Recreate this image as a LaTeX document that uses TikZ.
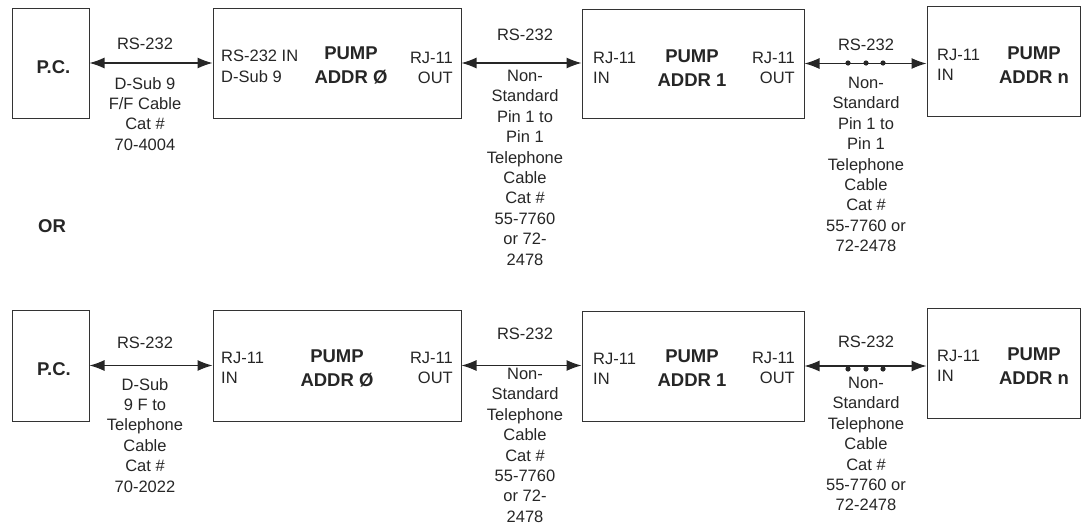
\documentclass[tikz,border=0pt]{standalone}
\usepackage{fontspec}
\setmainfont{Liberation Sans}
\usetikzlibrary{arrows.meta,positioning}

\begin{document}
\begin{tikzpicture}[x=1pt, y=-1pt,
  every node/.style={text=black!85, inner sep=0pt,
                     font=\fontsize{16.5}{20.4}\selectfont},
  unit/.style 2 args={draw=black!80, line width=1pt,
                      minimum width=#1, minimum height=#2},
  title/.style={font=\fontsize{18.5}{23.5}\selectfont\bfseries, anchor=base},
  heading/.style={font=\fontsize{18.5}{23.5}\selectfont\bfseries,
                  align=center, anchor=north},
  port/.style={align=left, anchor=north west},
  outport/.style={align=right, anchor=north east},
  note/.style={anchor=base},
  cabletext/.style={align=center, anchor=north},
  cable/.style={draw=black!85, line width=1.1pt,
                {Latex[length=15pt,width=11pt]}-{Latex[length=15pt,width=11pt]}}]

  \useasboundingbox (0,0) rectangle (1081,525);

  % first chain
  \node[unit={77}{110}]  (pcA)    at (50.5,63)   {};
  \node[title]           (pcAname) at (53.5,73)  {P.C.};

  \node[unit={248}{110}] (pumpA0) at (337,63)    {};
  \node[port]    (pumpA0in)   at (221,50) {RS-232 IN\\D-Sub 9};
  \node[heading] (pumpA0name) at (351,47) {PUMP\\ADDR Ø};
  \node[outport] (pumpA0out)  at (453,52) {RJ-11\\OUT};

  \node[unit={222}{109}] (pumpA1) at (693,63.5)  {};
  \node[port]    (pumpA1in)   at (593,52) {RJ-11\\IN};
  \node[heading] (pumpA1name) at (692,50) {PUMP\\ADDR 1};
  \node[outport] (pumpA1out)  at (795,52) {RJ-11\\OUT};

  \node[unit={153}{110}] (pumpAn) at (1003.5,61) {};
  \node[port]    (pumpAnin)   at (937,49)  {RJ-11\\IN};
  \node[heading] (pumpAnname) at (1034,47) {PUMP\\ADDR n};

  \draw[cable] (pcA.east) -- (pumpA0.west);
  \draw[cable] (pumpA0.east) -- (pumpA1.west |- pumpA0.east);
  \draw[cable] (pumpA1.east) -- (pumpAn.west |- pumpA1.east);

  \node[note]      (rsA)  at (145,49) {RS-232};
  \node[cabletext] (catA) at (145,77) {D-Sub 9\\F/F Cable\\Cat \#\\70-4004};
  \node[note]      (rsB)  at (525,40) {RS-232};
  \node[cabletext] (catB) at (525,70) {Non-\\Standard\\Pin 1 to\\Pin 1\\Telephone\\Cable\\Cat \#\\55-7760\\or 72-\\2478};
  \node[note]      (rsC)  at (866,50) {RS-232};
  \node[cabletext] (catC) at (866,77) {Non-\\Standard\\Pin 1 to\\Pin 1\\Telephone\\Cable\\Cat \#\\55-7760 or\\72-2478};
  \foreach \dx in {-18,0,17}
    \fill[black!85] (866+\dx,63) circle (2.6pt);

  \node[title] (orTxt) at (52,232) {OR};

  % second chain
  \node[unit={77}{111}]  (pcB)    at (50.5,365.5) {};
  \node[title]           (pcBname) at (54,375)    {P.C.};

  \node[unit={248}{111}] (pumpB0) at (337,365.5)  {};
  \node[port]    (pumpB0in)   at (221,352) {RJ-11\\IN};
  \node[heading] (pumpB0name) at (337,350) {PUMP\\ADDR Ø};
  \node[outport] (pumpB0out)  at (453,352) {RJ-11\\OUT};

  \node[unit={222}{110}] (pumpB1) at (693,366)    {};
  \node[port]    (pumpB1in)   at (593,353) {RJ-11\\IN};
  \node[heading] (pumpB1name) at (692,350) {PUMP\\ADDR 1};
  \node[outport] (pumpB1out)  at (795,352) {RJ-11\\OUT};

  \node[unit={153}{110}] (pumpBn) at (1003.5,363) {};
  \node[port]    (pumpBnin)   at (937,350)  {RJ-11\\IN};
  \node[heading] (pumpBnname) at (1034,348) {PUMP\\ADDR n};

  \draw[cable] (pcB.east) -- (pumpB0.west);
  \draw[cable] (pumpB0.east) -- (pumpB1.west |- pumpB0.east);
  \draw[cable] (pumpB1.east) -- (pumpBn.west |- pumpB1.east);

  \node[note]      (rsD)  at (145,348) {RS-232};
  \node[cabletext] (catD) at (145,378) {D-Sub\\9 F to\\Telephone\\Cable\\Cat \#\\70-2022};
  \node[note]      (rsE)  at (525,339) {RS-232};
  \node[cabletext] (catE) at (525,368) {Non-\\Standard\\Telephone\\Cable\\Cat \#\\55-7760\\or 72-\\2478};
  \node[note]      (rsF)  at (866,347) {RS-232};
  \node[cabletext] (catF) at (866,377) {Non-\\Standard\\Telephone\\Cable\\Cat \#\\55-7760 or\\72-2478};
  \foreach \dx in {-18,0,17}
    \fill[black!85] (866+\dx,369) circle (2.6pt);

\end{tikzpicture}
\end{document}
